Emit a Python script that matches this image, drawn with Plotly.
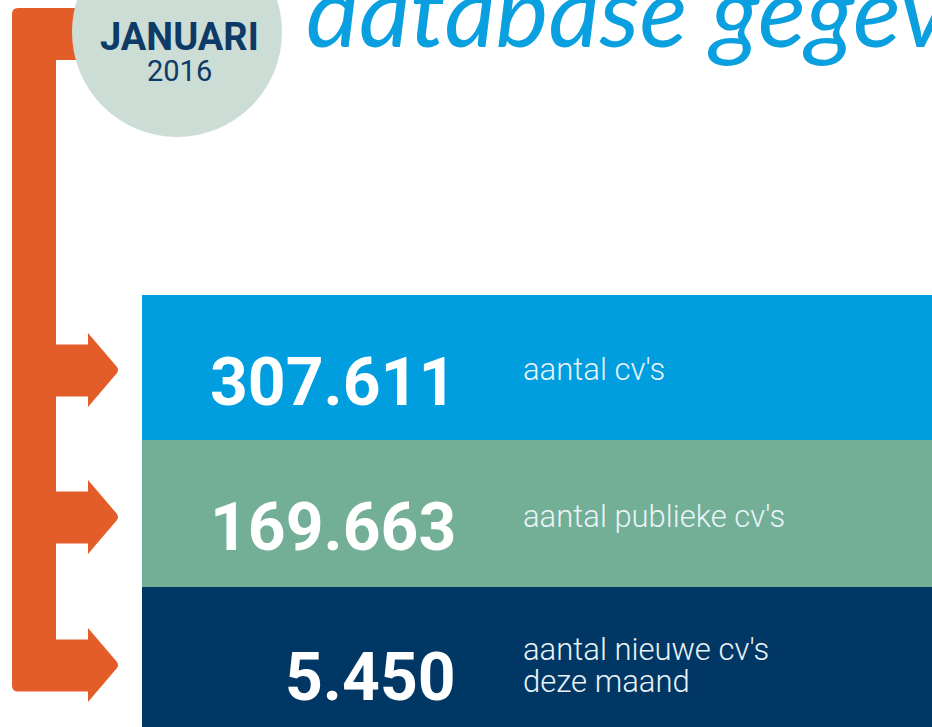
import plotly.graph_objects as go

# ======================================================
# Data
# ======================================================

month = "JANUARI"
year = "2016"
title_text = "database gegevens"

values = [307611, 169663, 5450]
labels = [["aantal cv's"], ["aantal publieke cv's"], ["aantal nieuwe cv's", "deze maand"]]
band_colors = ["#009EDF", "#72AF96", "#003764"]

W, H = 932, 727
band_edges = [295, 440, 587, 727]      # top of each band, last = bottom
number_y = [382, 527, 677]
label_y = [[369], [516], [649, 681]]
arrow_y = [370, 517, 665]

ORANGE = "#E35D28"
NAVY = "#0D3A66"


def dutch(n):
    return f"{n:,}".replace(",", ".")


fig = go.Figure()

# ======================================================
# Bands
# ======================================================

for i, c in enumerate(band_colors):
    fig.add_shape(type="rect", x0=142, x1=W, y0=band_edges[i], y1=band_edges[i + 1],
                  fillcolor=c, line_width=0, layer="below")

# ======================================================
# Orange bracket with arrows
# ======================================================

path = "M 12,14 Q 12,8 18,8 L 110,8 L 110,60 L 56,60 "
for k, ty in enumerate(arrow_y):
    s0, s1 = ty - 25.5, ty + 26.5
    path += f"L 56,{s0} L 88,{s0} L 88,{ty-37} L 117,{ty-3} Q 119,{ty} 117,{ty+3} L 88,{ty+37} L 88,{s1} "
    if k < len(arrow_y) - 1:
        path += f"L 56,{s1} "
    else:
        path += f"L 18,{s1} Q 12,{s1} 12,{s1-6} Z"

fig.add_shape(type="path", path=path, fillcolor=ORANGE, line_width=0, layer="below")

# month circle
fig.add_shape(type="circle", x0=72, x1=282, y0=-73, y1=137,
              fillcolor="#CCDDD6", line_width=0, layer="below")

# ======================================================
# Text
# ======================================================

fig.add_annotation(x=179, y=37, text=month, showarrow=False,
                   font=dict(family="Roboto", size=38, color=NAVY, weight="bold"))
fig.add_annotation(x=179, y=71, text=year, showarrow=False,
                   font=dict(family="Roboto", size=29, color=NAVY))

fig.add_annotation(x=304, y=70, text=title_text, showarrow=False,
                   xanchor="left", yanchor="bottom",
                   font=dict(family="Lato", size=100, color="#0AA0E0", style="italic"))

for v, y in zip(values, number_y):
    fig.add_annotation(x=458, y=y, text=dutch(v), showarrow=False, xanchor="right",
                       font=dict(family="Roboto", size=66, color="white", weight="bold"))

for lines, ys in zip(labels, label_y):
    for line, y in zip(lines, ys):
        fig.add_annotation(x=521, y=y, text=line, showarrow=False, xanchor="left",
                           font=dict(family="Roboto", size=31, color="#EAF3F7", weight=300))

fig.update_xaxes(range=[0, W], visible=False, fixedrange=True)
fig.update_yaxes(range=[H, 0], visible=False, fixedrange=True)

fig.update_layout(
    width=W, height=H,
    margin=dict(l=0, r=0, t=0, b=0),
    paper_bgcolor="white",
    plot_bgcolor="white",
    showlegend=False
)

fig.write_html("out.html", config={"displayModeBar": False},
               post_script="document.body.style.margin='0';")
